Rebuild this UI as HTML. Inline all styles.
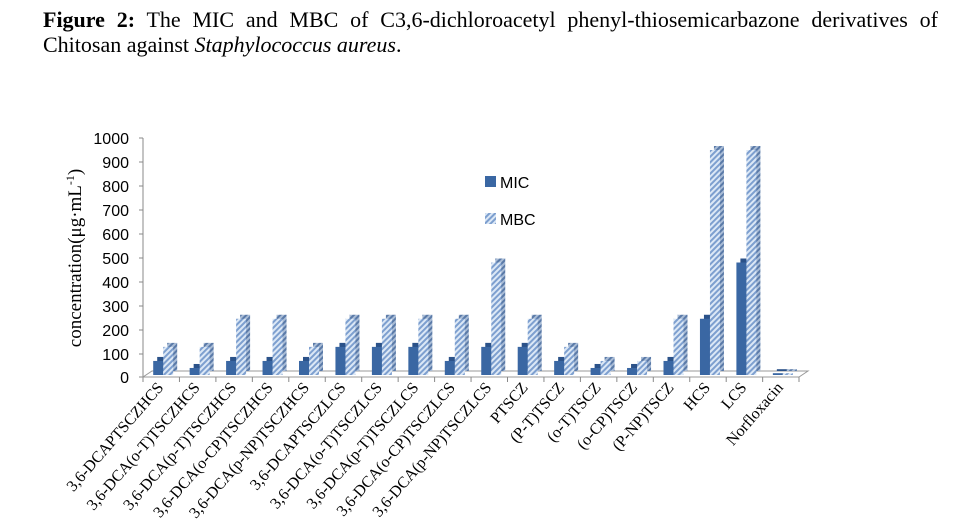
<!DOCTYPE html>
<html><head><meta charset="utf-8"><style>body{margin:0;background:#fff;position:relative;width:954px;height:528px;overflow:hidden}svg{display:block;position:absolute;left:0;top:0}
.t{position:absolute;left:43px;width:895px;font-family:"Liberation Serif",serif;font-size:22px;line-height:26px;white-space:nowrap}
</style></head><body>
<div class="t" style="top:7px;text-align:justify;text-align-last:justify;white-space:normal"><b>Figure 2:</b> The MIC and MBC of C3,6-dichloroacetyl phenyl-thiosemicarbazone derivatives of</div>
<div class="t" style="top:32px">Chitosan against <i>Staphylococcus aureus</i>.</div>
<svg width="954" height="528" xmlns="http://www.w3.org/2000/svg">
<defs>
<pattern id="h" width="4" height="4" patternUnits="userSpaceOnUse" patternTransform="rotate(45)">
<rect width="4" height="4" fill="#dce8f6"/><rect width="2" height="4" fill="#7d9fcf"/></pattern>
<pattern id="hd" width="4" height="4" patternUnits="userSpaceOnUse" patternTransform="rotate(45)">
<rect width="4" height="4" fill="#a9bcd6"/><rect width="2" height="4" fill="#5a7aa8"/></pattern>
</defs>
<line x1="143" y1="138" x2="143" y2="379" stroke="#888"/>
<g stroke="#888"><line x1="139" y1="138" x2="143" y2="138"/><line x1="139" y1="162" x2="143" y2="162"/><line x1="139" y1="186" x2="143" y2="186"/><line x1="139" y1="210" x2="143" y2="210"/><line x1="139" y1="234" x2="143" y2="234"/><line x1="139" y1="258" x2="143" y2="258"/><line x1="139" y1="282" x2="143" y2="282"/><line x1="139" y1="306" x2="143" y2="306"/><line x1="139" y1="330" x2="143" y2="330"/><line x1="139" y1="354" x2="143" y2="354"/><line x1="139" y1="377" x2="143" y2="377"/></g>
<polygon points="143,377 799,377 808,371 152,371" fill="#fff" stroke="#999"/>
<g font-family="Liberation Sans, sans-serif" font-size="16" fill="#000" text-anchor="end">
<text x="129" y="144">1000</text><text x="129" y="168">900</text><text x="129" y="192">800</text><text x="129" y="216">700</text><text x="129" y="240">600</text><text x="129" y="264">500</text><text x="129" y="288">400</text><text x="129" y="312">300</text><text x="129" y="336">200</text><text x="129" y="360">100</text><text x="129" y="383">0</text>
</g>
<text transform="translate(81,258) rotate(-90)" text-anchor="middle" font-family="Liberation Serif, serif" font-size="19">concentration(μg·mL<tspan font-size="12" dy="-7">-1</tspan><tspan dy="7">)</tspan></text>

<g>
<g fill="#2b5289">
<rect x="157.2" y="356.94" width="10" height="14.06"/>
<rect x="193.65" y="363.97" width="10" height="7.03"/>
<rect x="230.1" y="356.94" width="10" height="14.06"/>
<rect x="266.55" y="356.94" width="10" height="14.06"/>
<rect x="303" y="356.94" width="10" height="14.06"/>
<rect x="339.45" y="342.87" width="10" height="28.13"/>
<rect x="375.9" y="342.87" width="10" height="28.13"/>
<rect x="412.35" y="342.87" width="10" height="28.13"/>
<rect x="448.8" y="356.94" width="10" height="14.06"/>
<rect x="485.25" y="342.87" width="10" height="28.13"/>
<rect x="521.7" y="342.87" width="10" height="28.13"/>
<rect x="558.15" y="356.94" width="10" height="14.06"/>
<rect x="594.6" y="363.97" width="10" height="7.03"/>
<rect x="631.05" y="363.97" width="10" height="7.03"/>
<rect x="667.5" y="356.94" width="10" height="14.06"/>
<rect x="703.95" y="314.75" width="10" height="56.25"/>
<rect x="740.4" y="258.5" width="10" height="112.5"/>
<rect x="776.85" y="369.2" width="10" height="1.8"/>
</g>
<g fill="#3a67a3">
<rect x="153.2" y="360.94" width="10" height="14.06"/>
<rect x="189.65" y="367.97" width="10" height="7.03"/>
<rect x="226.1" y="360.94" width="10" height="14.06"/>
<rect x="262.55" y="360.94" width="10" height="14.06"/>
<rect x="299" y="360.94" width="10" height="14.06"/>
<rect x="335.45" y="346.87" width="10" height="28.13"/>
<rect x="371.9" y="346.87" width="10" height="28.13"/>
<rect x="408.35" y="346.87" width="10" height="28.13"/>
<rect x="444.8" y="360.94" width="10" height="14.06"/>
<rect x="481.25" y="346.87" width="10" height="28.13"/>
<rect x="517.7" y="346.87" width="10" height="28.13"/>
<rect x="554.15" y="360.94" width="10" height="14.06"/>
<rect x="590.6" y="367.97" width="10" height="7.03"/>
<rect x="627.05" y="367.97" width="10" height="7.03"/>
<rect x="663.5" y="360.94" width="10" height="14.06"/>
<rect x="699.95" y="318.75" width="10" height="56.25"/>
<rect x="736.4" y="262.5" width="10" height="112.5"/>
<rect x="772.85" y="373.2" width="10" height="1.8"/>
</g>
<g fill="url(#hd)">
<rect x="167.2" y="342.87" width="10" height="28.13"/>
<rect x="203.65" y="342.87" width="10" height="28.13"/>
<rect x="240.1" y="314.75" width="10" height="56.25"/>
<rect x="276.55" y="314.75" width="10" height="56.25"/>
<rect x="313" y="342.87" width="10" height="28.13"/>
<rect x="349.45" y="314.75" width="10" height="56.25"/>
<rect x="385.9" y="314.75" width="10" height="56.25"/>
<rect x="422.35" y="314.75" width="10" height="56.25"/>
<rect x="458.8" y="314.75" width="10" height="56.25"/>
<rect x="495.25" y="258.5" width="10" height="112.5"/>
<rect x="531.7" y="314.75" width="10" height="56.25"/>
<rect x="568.15" y="342.87" width="10" height="28.13"/>
<rect x="604.6" y="356.94" width="10" height="14.06"/>
<rect x="641.05" y="356.94" width="10" height="14.06"/>
<rect x="677.5" y="314.75" width="10" height="56.25"/>
<rect x="713.95" y="146" width="10" height="225"/>
<rect x="750.4" y="146" width="10" height="225"/>
<rect x="786.85" y="369.2" width="10" height="1.8"/>
</g>
<g fill="url(#h)">
<rect x="163.2" y="346.87" width="10" height="28.13"/>
<rect x="199.65" y="346.87" width="10" height="28.13"/>
<rect x="236.1" y="318.75" width="10" height="56.25"/>
<rect x="272.55" y="318.75" width="10" height="56.25"/>
<rect x="309" y="346.87" width="10" height="28.13"/>
<rect x="345.45" y="318.75" width="10" height="56.25"/>
<rect x="381.9" y="318.75" width="10" height="56.25"/>
<rect x="418.35" y="318.75" width="10" height="56.25"/>
<rect x="454.8" y="318.75" width="10" height="56.25"/>
<rect x="491.25" y="262.5" width="10" height="112.5"/>
<rect x="527.7" y="318.75" width="10" height="56.25"/>
<rect x="564.15" y="346.87" width="10" height="28.13"/>
<rect x="600.6" y="360.94" width="10" height="14.06"/>
<rect x="637.05" y="360.94" width="10" height="14.06"/>
<rect x="673.5" y="318.75" width="10" height="56.25"/>
<rect x="709.95" y="150" width="10" height="225"/>
<rect x="746.4" y="150" width="10" height="225"/>
<rect x="782.85" y="373.2" width="10" height="1.8"/>
</g>
</g>

<g stroke="#888">
<line x1="143" y1="377" x2="143" y2="382"/><line x1="179.45" y1="377" x2="179.45" y2="382"/><line x1="215.9" y1="377" x2="215.9" y2="382"/><line x1="252.35" y1="377" x2="252.35" y2="382"/><line x1="288.8" y1="377" x2="288.8" y2="382"/><line x1="325.25" y1="377" x2="325.25" y2="382"/><line x1="361.7" y1="377" x2="361.7" y2="382"/><line x1="398.15" y1="377" x2="398.15" y2="382"/><line x1="434.6" y1="377" x2="434.6" y2="382"/><line x1="471.05" y1="377" x2="471.05" y2="382"/><line x1="507.5" y1="377" x2="507.5" y2="382"/><line x1="543.95" y1="377" x2="543.95" y2="382"/><line x1="580.4" y1="377" x2="580.4" y2="382"/><line x1="616.85" y1="377" x2="616.85" y2="382"/><line x1="653.3" y1="377" x2="653.3" y2="382"/><line x1="689.75" y1="377" x2="689.75" y2="382"/><line x1="726.2" y1="377" x2="726.2" y2="382"/><line x1="762.65" y1="377" x2="762.65" y2="382"/><line x1="799" y1="377" x2="799" y2="382"/>
</g>

<g font-family="Liberation Serif, serif" font-size="16" text-anchor="end">
<text transform="translate(164.2,388) rotate(-49)">3,6-DCAPTSCZHCS</text>
<text transform="translate(200.65,388) rotate(-49)">3,6-DCA(o-T)TSCZHCS</text>
<text transform="translate(237.1,388) rotate(-49)">3,6-DCA(p-T)TSCZHCS</text>
<text transform="translate(273.55,388) rotate(-49)">3,6-DCA(o-CP)TSCZHCS</text>
<text transform="translate(310,388) rotate(-49)">3,6-DCA(p-NP)TSCZHCS</text>
<text transform="translate(346.45,388) rotate(-49)">3,6-DCAPTSCZLCS</text>
<text transform="translate(382.9,388) rotate(-49)">3,6-DCA(o-T)TSCZLCS</text>
<text transform="translate(419.35,388) rotate(-49)">3,6-DCA(p-T)TSCZLCS</text>
<text transform="translate(455.8,388) rotate(-49)">3,6-DCA(o-CP)TSCZLCS</text>
<text transform="translate(492.25,388) rotate(-49)">3,6-DCA(p-NP)TSCZLCS</text>
<text transform="translate(528.7,388) rotate(-49)">PTSCZ</text>
<text transform="translate(565.15,388) rotate(-49)">(P-T)TSCZ</text>
<text transform="translate(601.6,388) rotate(-49)">(o-T)TSCZ</text>
<text transform="translate(638.05,388) rotate(-49)">(o-CP)TSCZ</text>
<text transform="translate(674.5,388) rotate(-49)">(P-NP)TSCZ</text>
<text transform="translate(710.95,388) rotate(-49)">HCS</text>
<text transform="translate(747.4,388) rotate(-49)">LCS</text>
<text transform="translate(783.85,388) rotate(-49)">Norfloxacin</text>
</g>

<rect x="485" y="176" width="11" height="11" fill="#3a67a3"/>
<text x="500" y="188" font-family="Liberation Sans, sans-serif" font-size="16">MIC</text>
<rect x="485" y="213" width="11" height="11" fill="url(#h)"/>
<text x="500" y="225" font-family="Liberation Sans, sans-serif" font-size="16">MBC</text>
</svg>
</body></html>
